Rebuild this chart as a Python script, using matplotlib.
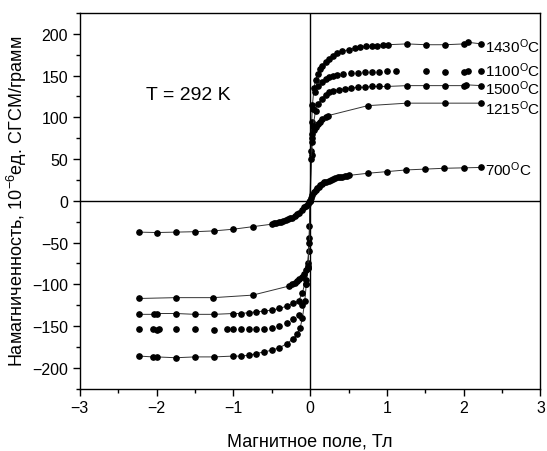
"""Кривые намагниченности образцов после отжига при разных температурах."""

import matplotlib
matplotlib.use("Agg")
import matplotlib.pyplot as plt
from matplotlib.ticker import MultipleLocator

plt.rcParams["font.family"] = ["Liberation Sans", "DejaVu Sans"]
plt.rcParams["mathtext.fontset"] = "custom"
plt.rcParams["mathtext.rm"] = "Liberation Sans"
plt.rcParams["mathtext.it"] = "Liberation Sans"

# --- данные (поле, Тл; намагниченность, 10^-6 ед. СГСМ/г) ---
x_1430 = [-2.23, -2.05, -2.0, -1.75, -1.5, -1.25, -1.0, -0.9, -0.8, -0.7, -0.6, -0.5,
          -0.4, -0.3, -0.22, -0.17, -0.13, -0.1, -0.07, -0.05, -0.03, -0.02, -0.01,
          0.0, 0.01, 0.02, 0.03, 0.05, 0.07, 0.1, 0.13, 0.15, 0.2, 0.24, 0.3, 0.35,
          0.41, 0.5, 0.59, 0.65, 0.73, 0.81, 0.87, 0.95, 1.01, 1.26, 1.51, 1.76,
          2.01, 2.05, 2.23]
y_1430 = [-186, -187, -187, -188, -187, -187, -186, -186, -185, -183, -181, -179,
          -176, -171, -165, -160, -152, -140, -120, -100, -80, -60, -30,
          0, 60, 95, 115, 135, 145, 152, 158, 162, 166, 170, 174, 177,
          179, 181, 183, 184, 185, 185, 186, 187, 187, 188, 187, 187,
          188, 190, 188]

x_1100 = [-2.23, -2.05, -2.0, -1.97, -1.75, -1.5, -1.25, -1.08, -1.0, -0.9, -0.8,
          -0.7, -0.6, -0.5, -0.4, -0.3, -0.22, -0.15, -0.1, -0.05, -0.03,
          0.02, 0.04, 0.06, 0.1, 0.15, 0.2, 0.25, 0.3, 0.35, 0.43, 0.53, 0.62,
          0.71, 0.8, 0.9, 1.0, 1.12, 1.51, 1.76, 2.0, 2.06, 2.23]
y_1100 = [-154, -154, -155, -154, -154, -154, -155, -154, -154, -154, -154,
          -153, -153, -152, -150, -146, -142, -137, -125, -100, -80,
          70, 110, 130, 137, 142, 146, 148, 150, 151, 152, 153, 153,
          154, 154, 154, 155, 156, 155, 154, 154, 155, 155]

x_1500 = [-2.23, -2.03, -2.0, -1.75, -1.5, -1.25, -1.0, -0.9, -0.8, -0.7, -0.6,
          -0.5, -0.4, -0.3, -0.22, -0.15, -0.1, -0.06, -0.03, -0.01,
          0.0, 0.02, 0.04, 0.07, 0.1, 0.15, 0.2, 0.25, 0.3, 0.37, 0.45, 0.53,
          0.62, 0.71, 0.8, 0.9, 1.0, 1.26, 1.51, 1.76, 2.0, 2.03, 2.23]
y_1500 = [-136, -136, -135, -135, -136, -136, -135, -135, -134, -133, -132,
          -131, -129, -126, -123, -120, -110, -95, -75, -45,
          0, 55, 90, 108, 116, 122, 127, 130, 132, 133, 134, 135,
          136, 136, 137, 137, 137, 138, 138, 138, 138, 139, 138]

x_1215 = [-2.23, -1.75, -1.26, -0.75, -0.27, -0.24, -0.2, -0.17, -0.14, -0.11,
          -0.08, -0.05, -0.03, -0.01,
          0.0, 0.01, 0.02, 0.03, 0.05, 0.07, 0.1, 0.13, 0.16, 0.2, 0.23,
          0.75, 1.26, 1.76, 2.23]
y_1215 = [-117, -116, -116, -113, -102, -100, -98, -96, -94, -91,
          -88, -83, -78, -50,
          0, 50, 75, 80, 85, 88, 92, 95, 98, 100, 102,
          114, 117, 117, 117]

x_700 = [-2.23, -2.0, -1.75, -1.5, -1.25, -1.0, -0.75, -0.5, -0.47, -0.44, -0.41,
         -0.38, -0.35, -0.32, -0.29, -0.26, -0.23, -0.2, -0.17, -0.14, -0.11,
         -0.08, -0.05, -0.03, -0.01,
         0.0, 0.01, 0.03, 0.05, 0.07, 0.09, 0.11, 0.13, 0.15, 0.18, 0.21, 0.24,
         0.27, 0.3, 0.33, 0.36, 0.39, 0.42, 0.45, 0.48, 0.51, 0.75, 1.0, 1.25,
         1.5, 1.75, 2.0, 2.23]
y_700 = [-37.5, -38, -37.5, -37, -36, -34, -31, -28, -27, -26.5, -25.5,
         -25, -24, -23, -22, -21, -20, -18, -16, -14, -11,
         -8, -6, -4, -2,
         0, 3, 7, 10, 13, 15, 17, 19, 20, 22, 23, 24,
         25, 26, 27, 28, 28.5, 29, 29.5, 30, 30.5, 33, 35, 37,
         38, 39, 39.5, 40]

labels = ["1430", "1100", "1500", "1215", "700"]
label_y = [186, 157, 136, 112, 38]

fig = plt.figure(figsize=(5.47, 4.52), dpi=100)
ax = fig.add_axes([0.146, 0.138, 0.842, 0.831])

line_kw = dict(color="#333333", lw=0.7, marker="o", ms=3.8,
               mfc="black", mec="black")
ax.plot(x_1430, y_1430, **line_kw)
ax.plot(x_1500, y_1500, **line_kw)
ax.plot(x_1215, y_1215, **line_kw)
ax.plot(x_700, y_700, **line_kw)
# у 1100 °C только точки, без линии
ax.plot(x_1100, y_1100, ls="none", marker="o", ms=3.8, mfc="black", mec="black")

ax.axhline(0, color="black", lw=1)
ax.axvline(0, color="black", lw=1)

for name, yy in zip(labels, label_y):
    ax.text(2.28, yy, name + r"$^{\mathrm{O}}$C", fontsize=11, va="center", ha="left")

ax.text(-2.14, 127, "T = 292 K", fontsize=14, va="center", ha="left")

ax.set_xlim(-3, 3)
ax.set_ylim(-225, 225)
ax.xaxis.set_major_locator(MultipleLocator(1))
ax.xaxis.set_minor_locator(MultipleLocator(0.5))
ax.yaxis.set_major_locator(MultipleLocator(50))
ax.yaxis.set_minor_locator(MultipleLocator(25))
ax.tick_params(which="major", length=5, width=1, labelsize=11.5)
ax.tick_params(which="minor", length=3, width=1)
for sp in ax.spines.values():
    sp.set_linewidth(1)

ax.set_xlabel("Магнитное поле, Тл", fontsize=13, labelpad=12)
ax.set_ylabel(r"Намагниченность, 10$^{-6}$ед. СГСМ/грамм", fontsize=13, labelpad=2)

fig.savefig("out.png", dpi=100)
